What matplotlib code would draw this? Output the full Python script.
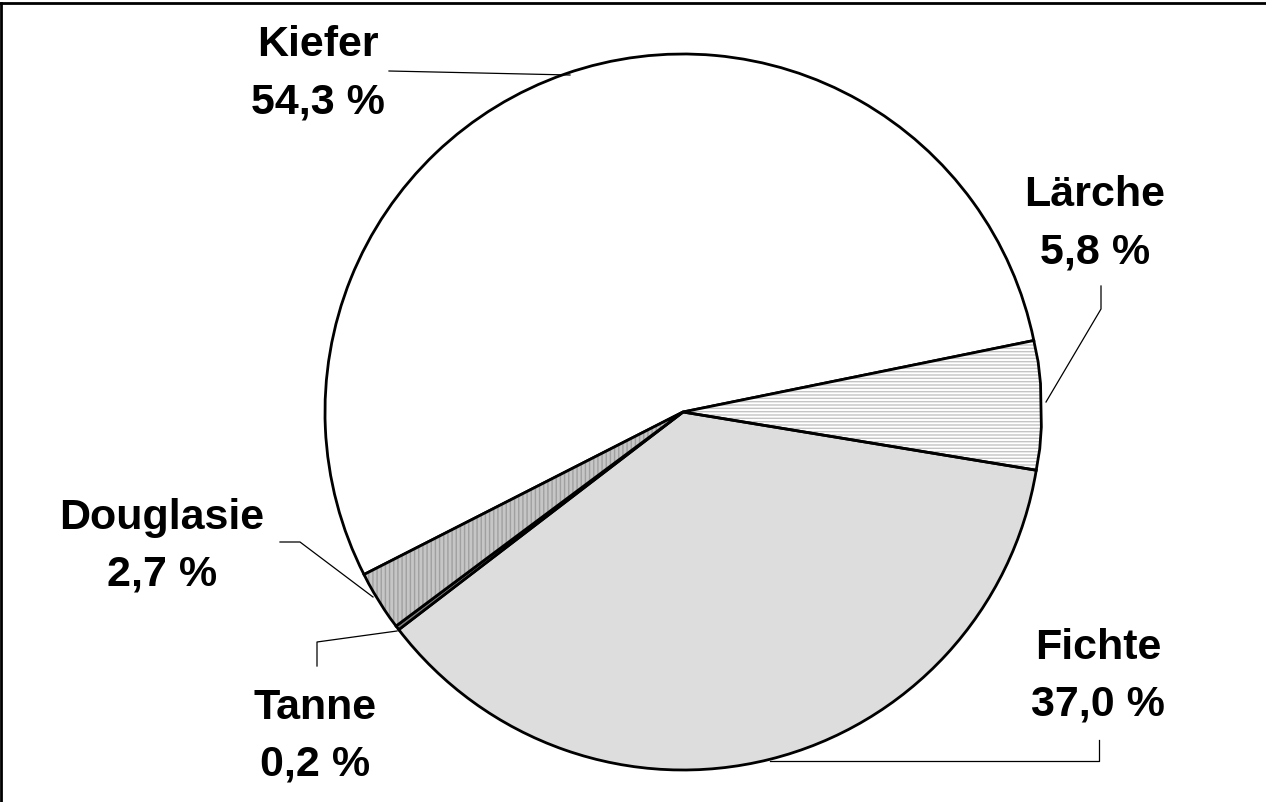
import matplotlib
matplotlib.use("Agg")
import matplotlib.pyplot as plt
from matplotlib.lines import Line2D

# data (clockwise, starting with Kiefer)
species = ["Kiefer", "Lärche", "Fichte", "Tanne", "Douglasie"]
shares = [54.3, 5.8, 37.0, 0.2, 2.7]
pct_labels = ["54,3 %", "5,8 %", "37,0 %", "0,2 %", "2,7 %"]

W, H = 1266, 803
fig = plt.figure(figsize=(W / 100, H / 100), dpi=100)
ax = fig.add_axes([0, 0, 1, 1])

cx, cy, r = 683, H - 413, 358
faces = ["white", "white", "#dddddd", "#808080", "#c6c6c6"]
hatches = [None, "-----", None, None, "||||"]
hatch_cols = [None, "#c4c4c4", None, None, "#a0a0a0"]

wedges, _ = ax.pie(shares, startangle=207, counterclock=False, center=(cx, cy),
                   radius=r, colors=faces, frame=True,
                   wedgeprops=dict(edgecolor="black", linewidth=2.0))
ax.set_xlim(0, W)
ax.set_ylim(0, H)
ax.set_aspect("equal")
ax.axis("off")

# hatch overlays, then outlines again on top
for w, h, hc in zip(wedges, hatches, hatch_cols):
    if h is None:
        continue
    w.set_edgecolor(hc)
    w.set_linewidth(0)
    w.set_hatch(h)
    ax.add_patch(plt.Polygon(w.get_path().vertices, closed=True, fill=False,
                             edgecolor="black", linewidth=2.0,
                             transform=w.get_transform(), zorder=w.get_zorder() + 1))

# label positions (pixel coords from top-left)
label_pos = {
    "Kiefer": (318, 45),
    "Lärche": (1095, 195),
    "Fichte": (1098, 648),
    "Tanne": (315, 708),
    "Douglasie": (162, 518),
}
font = dict(family=["Liberation Sans", "DejaVu Sans"], fontsize=31, fontweight="bold",
            ha="center", va="center")
for name, pct in zip(species, pct_labels):
    x, y = label_pos[name]
    ax.text(x, H - y, name, **font)
    ax.text(x, H - y - 57, pct, **font)

# leader lines
leaders = [
    [(389, 72), (570, 76)],
    [(1101, 287), (1101, 310), (1046, 403)],
    [(280, 543), (300, 543), (373, 598)],
    [(317, 667), (317, 643), (397, 632)],
    [(1099, 741), (1099, 762), (770, 762)],
]
for pts in leaders:
    xs = [p[0] for p in pts]
    ys = [H - p[1] for p in pts]
    ax.plot(xs, ys, color="black", linewidth=0.9, zorder=5)

# frame (top and left only visible)
fig.add_artist(Line2D([0, 1], [1 - 4 / H, 1 - 4 / H], color="black", linewidth=2,
                      transform=fig.transFigure))
fig.add_artist(Line2D([1 / W, 1 / W], [0, 1 - 4 / H], color="black", linewidth=2,
                      transform=fig.transFigure))

fig.savefig("out.png", dpi=100, facecolor="white")
